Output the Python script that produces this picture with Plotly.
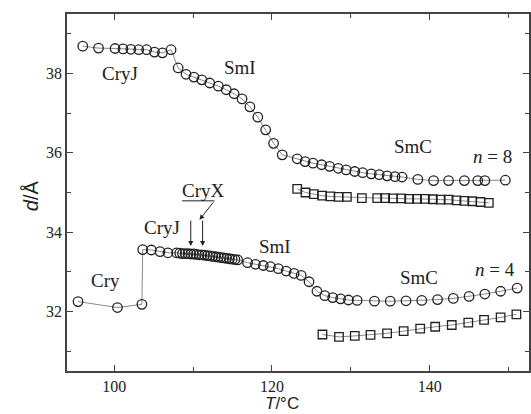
import plotly.graph_objects as go

# ---- data ----
# n = 8, circles
t8_c = [96.0, 98.0, 100.1, 101.1, 102.1, 103.1, 104.1, 105.1, 106.1, 107.2,
        108.1, 109.1, 110.1, 111.1, 112.1, 113.2, 114.2, 115.2, 116.2, 117.2,
        118.2, 119.2, 120.2, 121.3,
        123.2, 124.2, 125.2, 126.3, 127.3, 128.4, 129.4, 130.5, 131.5, 132.6,
        133.6, 134.6, 135.6, 136.5, 138.5, 140.5, 142.4, 144.4, 146.1, 147.0, 149.6]
d8_c = [38.69, 38.64, 38.63, 38.62, 38.61, 38.60, 38.60, 38.54, 38.52, 38.60,
        38.14, 37.98, 37.91, 37.84, 37.76, 37.68, 37.59, 37.49, 37.36, 37.16,
        36.90, 36.58, 36.24, 35.95,
        35.85, 35.78, 35.74, 35.70, 35.66, 35.61, 35.57, 35.53, 35.50, 35.47,
        35.45, 35.42, 35.40, 35.39, 35.33, 35.30, 35.30, 35.30, 35.30, 35.30, 35.31]
# n = 8, squares
t8_s = [123.2, 124.25, 125.3, 126.35, 127.4, 128.45, 129.5, 131.4, 133.35, 134.35,
        135.35, 136.4, 137.4, 138.4, 139.4, 140.4, 141.4, 142.4, 143.4, 144.4,
        145.4, 146.45, 147.5]
d8_s = [35.09, 35.00, 34.96, 34.92, 34.90, 34.89, 34.89, 34.86, 34.86, 34.86,
        34.85, 34.85, 34.84, 34.84, 34.84, 34.83, 34.82, 34.82, 34.80, 34.79,
        34.78, 34.76, 34.74]
# n = 4, circles
t4_c = [95.4, 100.4, 103.5,
        103.6, 104.7, 105.8, 106.8, 107.9,
        108.3, 108.65, 109.0, 109.35, 109.7, 110.05, 110.4, 110.75, 111.1, 111.45,
        111.8, 112.15, 112.5, 112.85, 113.2, 113.55, 113.9, 114.25, 114.6, 114.95,
        115.3, 115.65,
        116.9, 117.9, 118.9, 119.8, 120.8, 121.8, 122.8, 123.7, 124.7, 125.7,
        126.7, 127.7, 128.7, 129.7, 130.8,
        133.0, 135.0, 137.0, 139.0, 141.0, 143.0, 145.0, 147.0, 149.0, 151.1]
d4_c = [32.25, 32.10, 32.18,
        33.56, 33.55, 33.51, 33.48, 33.48,
        33.47, 33.46, 33.46, 33.46, 33.45, 33.45, 33.44, 33.43, 33.43, 33.42,
        33.41, 33.40, 33.39, 33.38, 33.37, 33.36, 33.35, 33.34, 33.33, 33.32,
        33.31, 33.30,
        33.23, 33.19, 33.16, 33.13, 33.08, 33.02, 32.96, 32.91, 32.75, 32.51,
        32.40, 32.35, 32.32, 32.29, 32.28,
        32.26, 32.26, 32.27, 32.28, 32.30, 32.33, 32.38, 32.44, 32.51, 32.59]
# n = 4, squares
t4_s = [126.4, 128.5, 130.5, 132.5, 134.6, 136.7, 138.8, 140.7, 142.8,
        144.9, 146.9, 149.0, 151.0]
d4_s = [31.42, 31.36, 31.385, 31.41, 31.45, 31.505, 31.57, 31.615, 31.66,
        31.72, 31.79, 31.85, 31.93]

x_ticks = [100, 120, 140]
y_ticks = [32, 34, 36, 38]

SERIF = "Liberation Serif"
SANS = "Liberation Sans"
LINE = dict(color="#8a8a8a", width=1)
CIRC = dict(symbol="circle-open", size=9.5, color="#222", line=dict(width=1.3, color="#222"))
SQ = dict(symbol="square-open", size=8.5, color="#222", line=dict(width=1.3, color="#222"))

fig = go.Figure()
fig.add_trace(go.Scatter(x=t8_c, y=d8_c, mode="lines+markers", line=LINE, marker=CIRC))
fig.add_trace(go.Scatter(x=t8_s, y=d8_s, mode="lines+markers", line=LINE, marker=SQ))
fig.add_trace(go.Scatter(x=t4_c, y=d4_c, mode="lines+markers", line=LINE, marker=CIRC))
fig.add_trace(go.Scatter(x=t4_s, y=d4_s, mode="lines+markers", line=LINE, marker=SQ))

labels = [
    ("CryJ", 100.7, 38.01), ("SmI", 115.9, 38.16), ("SmC", 137.9, 36.17),
    ("<i>n</i> = 8", 148.0, 35.92), ("Cry", 98.9, 32.77), ("CryJ", 106.0, 34.11),
    ("CryX", 111.3, 35.06), ("SmI", 120.4, 33.63), ("SmC", 138.6, 32.85),
    ("<i>n</i> = 4", 148.3, 33.07),
]
for txt, x, y in labels:
    fig.add_annotation(x=x, y=y, text=txt, showarrow=False, xref="x", yref="y",
                       xanchor="center", yanchor="middle",
                       font=dict(family=SERIF, size=19, color="#222"))

# arrows for CryX
for xa in [109.7, 111.2]:
    fig.add_annotation(x=xa, y=33.65, ax=xa, ay=34.33, xref="x", yref="y",
                       axref="x", ayref="y", text="", showarrow=True,
                       arrowhead=2, arrowsize=1, arrowwidth=1, arrowcolor="#222")
fig.add_annotation(x=110.8, y=34.31, ax=112.7, ay=34.79, xref="x", yref="y",
                   axref="x", ayref="y", text="", showarrow=True,
                   arrowhead=2, arrowsize=1, arrowwidth=1, arrowcolor="#222")
fig.add_shape(type="line", x0=108.6, x1=112.7, y0=34.79, y1=34.79, xref="x", yref="y",
              line=dict(color="#222", width=1))

W, H = 531, 414
ML, MR, MT, MB = 67, 0, 14, 43
pw, ph = W - ML - MR, H - MT - MB

# axis titles, placed by pixel position
fig.add_annotation(x=(283 - ML) / pw, y=(H - MB - 414) / ph, xref="paper", yref="paper",
                   text="<i>T</i>/°C", showarrow=False, xanchor="center", yanchor="bottom",
                   borderpad=0, font=dict(family=SANS, size=17, color="#222"))
fig.add_annotation(x=(31 - ML) / pw, y=(H - MB - 196) / ph, xref="paper", yref="paper",
                   text="<i>d</i>/Å", textangle=-90, showarrow=False,
                   xanchor="center", yanchor="middle",
                   font=dict(family=SANS, size=20, color="#222"))

AX = "#444"
fig.update_layout(
    width=W, height=H, margin=dict(l=ML, r=MR, t=MT, b=MB),
    paper_bgcolor="white", plot_bgcolor="white", showlegend=False,
    xaxis=dict(range=[94, 152.6], tickvals=x_ticks, ticks="inside", ticklen=6,
               tickwidth=1.3, tickcolor=AX, showline=True, linecolor=AX, linewidth=1.8,
               mirror="ticks", showgrid=False, zeroline=False,
               tickfont=dict(family=SERIF, size=16, color="#222"),
               minor=dict(dtick=10, tick0=100, ticks="inside", ticklen=4, tickcolor=AX,
                          tickwidth=1.3, showgrid=False)),
    yaxis=dict(range=[30.5, 39.5], tickvals=y_ticks, ticks="inside", ticklen=6,
               tickwidth=1.3, tickcolor=AX, showline=True, linecolor=AX, linewidth=1.8,
               mirror="ticks", showgrid=False, zeroline=False,
               tickfont=dict(family=SERIF, size=16, color="#222"),
               minor=dict(dtick=1, tick0=31, ticks="inside", ticklen=4, tickcolor=AX,
                          tickwidth=1.3, showgrid=False)),
)
fig.write_html("out.html", config={"displayModeBar": False},
               post_script="document.body.style.margin='0';")
